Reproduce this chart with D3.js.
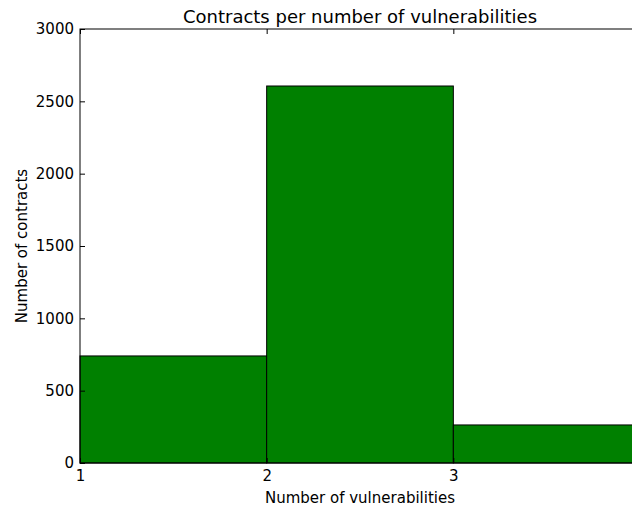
<!DOCTYPE html>
<html>
<head>
<meta charset="utf-8">
<script src="https://cdn.jsdelivr.net/npm/d3@7"></script>
<style>
  html, body { margin: 0; padding: 0; background: #fff; overflow: hidden; }
  svg { display: block; font-family: "DejaVu Sans", sans-serif; }
</style>
</head>
<body>
<script>
// Histogram bins (number of vulnerabilities) and counts of contracts
const binStarts = [1, 2, 3];
const binEnds = [2, 3, 4];
const counts = [740, 2606, 263];
const xTicks = [1, 2, 3];
const yTicks = [0, 500, 1000, 1500, 2000, 2500, 3000];

const W = 632, H = 512;
const plotLeft = 80, plotTop = 29, plotBottom = 463, plotRight = 640;

const svg = d3.select("body").append("svg")
  .attr("width", W).attr("height", H);

const x = d3.scaleLinear().domain([1, 4]).range([plotLeft, plotRight]);
const y = d3.scaleLinear().domain([0, 3000]).range([plotBottom, plotTop]);

// bars
svg.append("g").selectAll("rect")
  .data(counts)
  .join("rect")
  .attr("x", (d, i) => x(binStarts[i]))
  .attr("width", (d, i) => x(binEnds[i]) - x(binStarts[i]))
  .attr("y", d => y(d))
  .attr("height", d => y(0) - y(d))
  .attr("fill", "#008000")
  .attr("stroke", "#000")
  .attr("stroke-width", 1);

// frame
svg.append("rect")
  .attr("x", plotLeft).attr("y", plotTop)
  .attr("width", plotRight - plotLeft).attr("height", plotBottom - plotTop)
  .attr("fill", "none").attr("stroke", "#000").attr("stroke-width", 1);

// inward ticks, matplotlib classic style
const tickLen = 5;
const xAxisB = d3.axisBottom(x).tickValues(xTicks).tickFormat(d3.format("d"))
  .tickSizeInner(-tickLen).tickSizeOuter(0).tickPadding(7);
const gxb = svg.append("g").attr("transform", `translate(0,${plotBottom})`).call(xAxisB);
const xAxisT = d3.axisTop(x).tickValues(xTicks).tickFormat("")
  .tickSizeInner(-tickLen).tickSizeOuter(0);
const gxt = svg.append("g").attr("transform", `translate(0,${plotTop})`).call(xAxisT);
const yAxisL = d3.axisLeft(y).tickValues(yTicks).tickFormat(d3.format("d"))
  .tickSizeInner(-tickLen).tickSizeOuter(0).tickPadding(6);
const gyl = svg.append("g").attr("transform", `translate(${plotLeft},0)`).call(yAxisL);

[gxb, gxt, gyl].forEach(g => {
  g.attr("font-size", 15).attr("font-family", "'DejaVu Sans', sans-serif");
  g.select(".domain").remove();
  g.selectAll("line").attr("stroke", "#000");
  g.selectAll("text").attr("fill", "#000");
});

// labels
svg.append("text")
  .attr("x", (plotLeft + plotRight) / 2).attr("y", 23)
  .attr("text-anchor", "middle").attr("font-size", 18).attr("fill", "#000")
  .text("Contracts per number of vulnerabilities");

svg.append("text")
  .attr("x", (plotLeft + plotRight) / 2).attr("y", 503)
  .attr("text-anchor", "middle").attr("font-size", 15).attr("fill", "#000")
  .text("Number of vulnerabilities");

svg.append("text")
  .attr("transform", `translate(27,${(plotTop + plotBottom) / 2}) rotate(-90)`)
  .attr("text-anchor", "middle").attr("font-size", 15).attr("fill", "#000")
  .text("Number of contracts");
</script>
</body>
</html>
